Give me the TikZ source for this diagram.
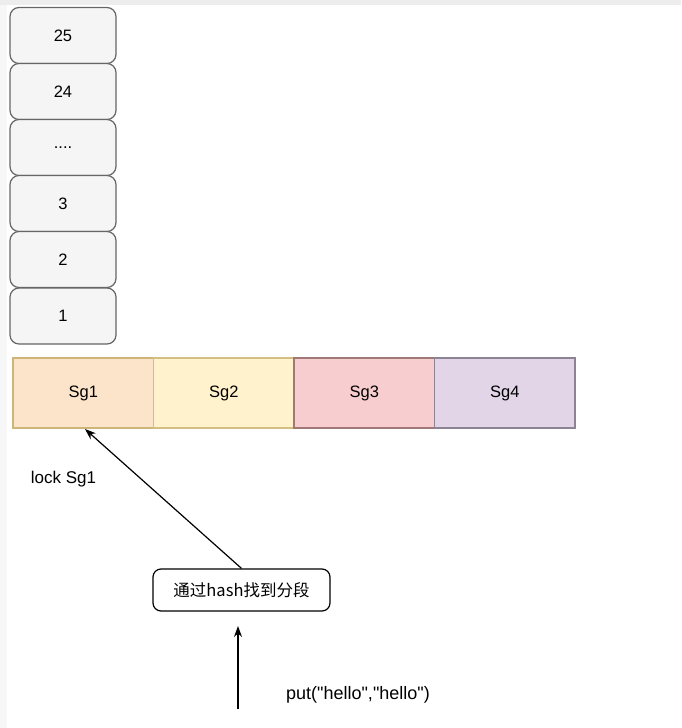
\documentclass[tikz,border=0pt]{standalone}
\usepackage{fontspec}
\setmainfont{Liberation Sans}[Ligatures=TeXOff]
\newfontfamily\cjk{Noto Sans CJK SC}
\usetikzlibrary{positioning}
\usetikzlibrary{arrows.meta}

\definecolor{stackfill}{HTML}{F5F5F5}
\definecolor{stackline}{HTML}{666666}
\definecolor{sgonefill}{HTML}{FCE4CA}
\definecolor{sgoneline}{HTML}{CDB57A}
\definecolor{sgtwofill}{HTML}{FFF2CC}
\definecolor{sgtwoline}{HTML}{D3BE84}
\definecolor{sgthreefill}{HTML}{F8CDD0}
\definecolor{sgthreeline}{HTML}{A07878}
\definecolor{sgfourfill}{HTML}{E2D5E8}
\definecolor{sgfourline}{HTML}{8C8494}

\tikzset{
    stackbox/.style={draw=stackline, fill=stackfill, line width=1.2pt, rounded corners=9pt,
        minimum width=106pt, minimum height=56pt, inner sep=0pt, font=\fontsize{16.5}{19}\selectfont},
    segbox/.style={line width=1.1pt, minimum width=140.5pt, minimum height=70pt,
        inner sep=0pt, font=\fontsize{16.5}{19}\selectfont},
    hashbox/.style={draw, line width=1.2pt, rounded corners=8pt, minimum width=177pt,
        minimum height=42pt, inner sep=0pt, font=\fontsize{16.5}{19}\selectfont},
    plaintext/.style={inner sep=0pt, font=\fontsize{17}{20}\selectfont},
    pointer/.style={-{Stealth[length=11pt,width=8pt]}, line width=1.2pt},
}

\begin{document}
\begin{tikzpicture}[x=1pt,y=-1pt]
    \useasboundingbox (0,0) rectangle (681,728);
    \fill[white] (0,0) rectangle (681,728);
    \fill[black!7] (0,0) rectangle (681,5);
    \fill[black!3] (0,5) rectangle (7,728);

    % stack of entries
    \node[stackbox] (entry25) at (63,35.5) {25};
    \node[stackbox] (entry24) at (63,91.5) {24};
    \node[stackbox] (entrydots) at (63,147.5) {....};
    \node[stackbox] (entry3) at (63,203.5) {3};
    \node[stackbox] (entry2) at (63,259.5) {2};
    \node[stackbox] (entry1) at (63,316) {1};

    % segments
    \node[segbox, draw=sgoneline, fill=sgonefill] (sg1) at (83.25,393) {Sg1};
    \node[segbox, draw=sgtwoline, fill=sgtwofill] (sg2) at (223.75,393) {Sg2};
    \node[segbox, draw=sgthreeline, fill=sgthreefill] (sg3) at (364.25,393) {Sg3};
    \node[segbox, draw=sgfourline, fill=sgfourfill] (sg4) at (504.75,393) {Sg4};

    \node[plaintext] (lock) at (63.5,479) {lock Sg1};
    \node[hashbox] (hash) at (241.5,590) {\cjk 通过hash找到分段};
    \node[plaintext, font=\fontsize{18}{21}\selectfont] (put) at (358,695)
        {put("hello","hello")};

    \coordinate (sgtarget) at (85,429);
    \coordinate (putstart) at (238,709);
    \coordinate (putend) at (238,626);

\draw[pointer] (hash.north) -- (sgtarget);
\draw[pointer] (putstart) -- (putend);

\end{tikzpicture}
\end{document}
